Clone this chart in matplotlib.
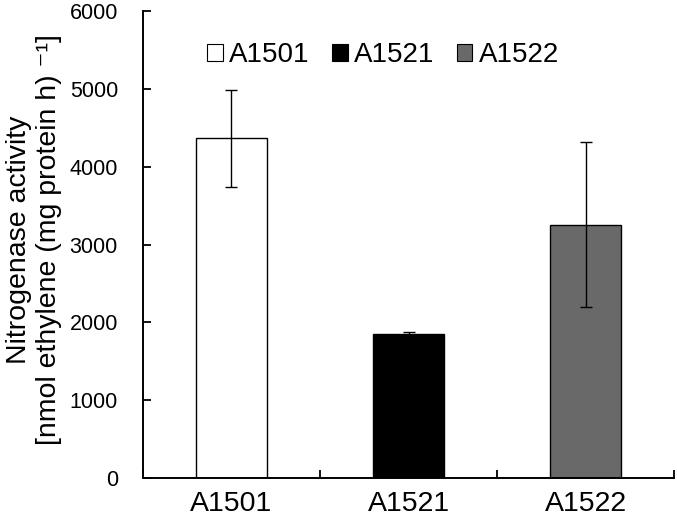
import matplotlib
matplotlib.use("Agg")
import matplotlib.pyplot as plt
from matplotlib.patches import Patch

plt.rcParams["font.family"] = ["Liberation Sans", "DejaVu Sans"]

strains = ["A1501", "A1521", "A1522"]
activity = [4365, 1846, 3257]
errors = [625, 30, 1062]
colors = ["#ffffff", "#000000", "#696969"]

fig = plt.figure(figsize=(6.77, 5.25), dpi=100)
ax = fig.add_axes([0.2112, 0.0895, 0.7844, 0.8895])

x = list(range(len(strains)))
ax.bar(x, activity, width=0.40, color=colors, edgecolor="black", linewidth=1.0)
ax.errorbar(x, activity, yerr=errors, fmt="none", ecolor="black",
            elinewidth=1.0, capsize=4, capthick=1.0)

ax.set_xlim(-0.5, 2.5)
ax.set_ylim(0, 6000)
ax.set_yticks(range(0, 6001, 1000))
ax.set_xticks([-0.5, 0.5, 1.5, 2.5])
ax.set_xticklabels([])
ax.set_xticks(x, minor=True)
ax.set_xticklabels(strains, minor=True, fontsize=20.5)
ax.tick_params(axis="x", which="minor", length=0, pad=9)
ax.tick_params(axis="x", which="major", direction="in", length=6, width=1.3)
ax.tick_params(axis="y", direction="in", length=6, width=1.3, labelsize=15.5, pad=18)

for side in ["top", "right"]:
    ax.spines[side].set_visible(False)
for side in ["left", "bottom"]:
    ax.spines[side].set_linewidth(1.4)

ax.set_ylabel("Nitrogenase activity\n[nmol ethylene (mg protein h) \u207b\u00b9]",
              fontsize=20.5, linespacing=1.2)
ax.yaxis.set_label_coords(-0.152, 0.51)

handles = [Patch(facecolor=c, edgecolor="black", linewidth=0.8) for c in colors]
ax.legend(handles, strains, loc="center", bbox_to_anchor=(0.452, 0.905), ncol=3,
          frameon=False, fontsize=20, handlelength=0.57, handleheight=0.57,
          handletextpad=0.22, columnspacing=0.8, borderpad=0)

fig.savefig("out.png", dpi=100)
